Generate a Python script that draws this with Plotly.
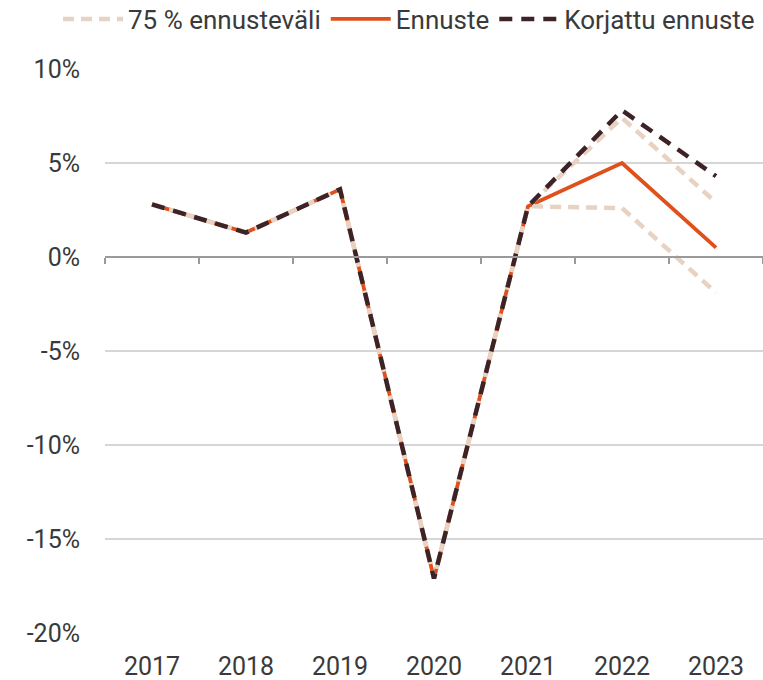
import plotly.graph_objects as go

years = ["2017", "2018", "2019", "2020", "2021", "2022", "2023"]
history = [2.8, 1.3, 3.6, -17.1, 2.7]
ennuste_future = [5.0, 0.5]
korjattu_future = [7.8, 4.3]
upper_future = [7.4, 2.9]
lower_future = [2.6, -1.9]
y_ticks = [10, 5, 0, -5, -10, -15, -20]
y_tick_labels = ["10%", "5%", "0%", "-5%", "-10%", "-15%", "-20%"]

BEIGE = "#e8d2c2"
ORANGE = "#e0501a"
DARK = "#3d2226"
TEXT = "#3a3a3a"
FS = 25
LFS = 26

fig = go.Figure()
fig.add_trace(go.Scatter(x=years, y=history + ennuste_future, mode="lines",
                         line=dict(color=ORANGE, width=3.8),
                         name="Ennuste", legendrank=2))
fig.add_trace(go.Scatter(x=years, y=history + upper_future, mode="lines",
                         line=dict(color=BEIGE, width=4.5, dash="11px,7px"),
                         name="75 % ennusteväli", legendgroup="band", legendrank=1))
fig.add_trace(go.Scatter(x=years, y=history + lower_future, mode="lines",
                         line=dict(color=BEIGE, width=4.5, dash="11px,7px"),
                         name="75 % ennusteväli", legendgroup="band", showlegend=False))
fig.add_trace(go.Scatter(x=years, y=history + korjattu_future, mode="lines",
                         line=dict(color=DARK, width=4.5, dash="13px,9px"),
                         name="Korjattu ennuste", legendrank=3))
# invisible trace to carry the secondary x-axis (ticks along the zero line)
fig.add_trace(go.Scatter(x=years, y=[None] * len(years), xaxis="x2",
                         showlegend=False, hoverinfo="skip"))

fig.update_layout(
    width=763, height=680,
    margin=dict(l=105, r=0, t=69, b=47, autoexpand=False),
    paper_bgcolor="white", plot_bgcolor="white",
    font=dict(family="Roboto", size=FS, color=TEXT),
    showlegend=True,
    legend=dict(orientation="h", xref="paper", yref="paper",
                x=(58 - 105) / 658, xanchor="left",
                y=(633 - 19) / 564, yanchor="middle",
                font=dict(size=LFS, color=TEXT), itemwidth=60,
                tracegroupgap=0, bgcolor="rgba(0,0,0,0)"),
    xaxis=dict(type="category", range=[-0.5, 6.5], showgrid=False,
               zeroline=False, showline=False, ticks="", automargin=False,
               ticklabelstandoff=16, tickfont=dict(size=FS, color=TEXT)),
    xaxis2=dict(type="category", range=[-0.5, 6.5], overlaying="x",
                anchor="free", position=2 / 3, side="bottom",
                showgrid=False, showline=True, linecolor="#9a9a9a", linewidth=1.5,
                ticks="outside", tickson="boundaries", ticklen=6,
                tickcolor="#9a9a9a", tickwidth=1.5, showticklabels=False),
    yaxis=dict(range=[-20, 10], tickvals=y_ticks, ticktext=y_tick_labels,
               showgrid=True, gridcolor="#d6d6d6", gridwidth=1.5,
               zeroline=False, showline=False, ticks="", automargin=False,
               ticklabelstandoff=24, tickfont=dict(size=FS, color=TEXT)),
)

fig.write_html(
    "out.html",
    config={"displayModeBar": False},
    post_script="document.body.style.margin='0px';document.body.style.overflow='hidden';",
)
